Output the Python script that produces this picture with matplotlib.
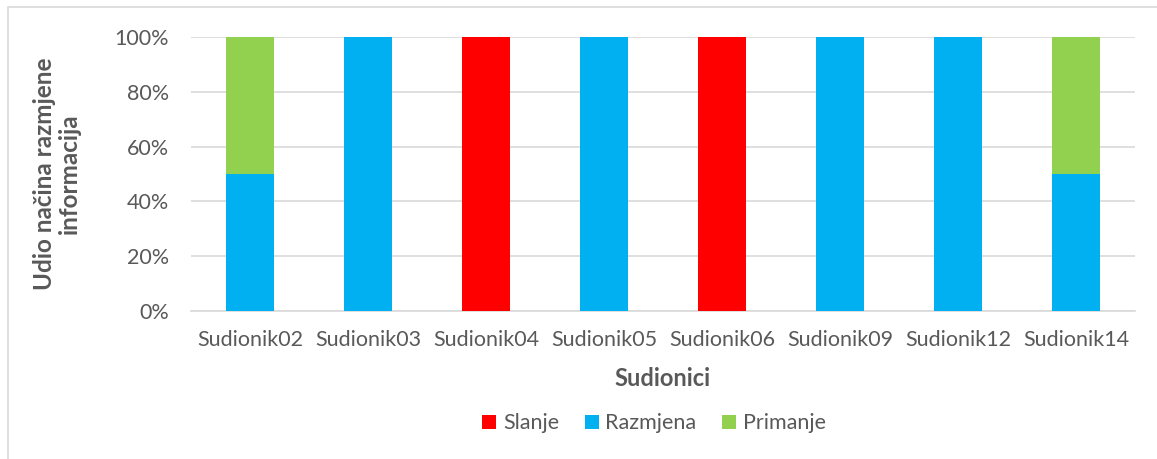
import matplotlib.pyplot as plt
import numpy as np
from matplotlib.patches import Rectangle
from matplotlib.ticker import PercentFormatter

plt.rcParams['font.family'] = ['Lato', 'DejaVu Sans']

participants = ['Sudionik02', 'Sudionik03', 'Sudionik04', 'Sudionik05',
                'Sudionik06', 'Sudionik09', 'Sudionik12', 'Sudionik14']
slanje = [0, 0, 1.0, 0, 1.0, 0, 0, 0]
razmjena = [0.5, 1.0, 0, 1.0, 0, 1.0, 1.0, 0.5]
primanje = [0.5, 0, 0, 0, 0, 0, 0, 0.5]

text_color = '#595959'
grid_color = '#d9d9d9'

fig = plt.figure(figsize=(11.57, 4.59), dpi=100)
ax = fig.add_axes([191 / 1157, 1 - 311 / 459, 944 / 1157, 274 / 459])

# chart area border
fig.patches.append(Rectangle((8 / 1157, -0.1), 1.2, 1 - 7 / 459 + 0.1,
                             transform=fig.transFigure, fill=False,
                             edgecolor='#d9d9d9', linewidth=1.2))

x = np.arange(len(participants))
w = 0.4
ax.bar(x, slanje, w, color='#ff0000', label='Slanje', zorder=3)
ax.bar(x, razmjena, w, bottom=slanje, color='#00b0f0', label='Razmjena', zorder=3)
bottom2 = np.array(slanje) + np.array(razmjena)
ax.bar(x, primanje, w, bottom=bottom2, color='#92d050', label='Primanje', zorder=3)

ax.set_xlim(-0.5, len(participants) - 0.5)
ax.set_ylim(0, 1)
ax.set_yticks(np.arange(0, 1.01, 0.2))
ax.yaxis.set_major_formatter(PercentFormatter(1.0, decimals=0))
ax.set_xticks(x)
ax.set_xticklabels(participants)

ax.yaxis.grid(True, color=grid_color, linewidth=1.2)
ax.set_axisbelow(True)
for s in ['top', 'right', 'left']:
    ax.spines[s].set_visible(False)
ax.spines['bottom'].set_color(grid_color)
ax.spines['bottom'].set_linewidth(1.2)
ax.tick_params(length=0, labelsize=15.5, colors=text_color)
ax.tick_params(axis='x', pad=14)
ax.tick_params(axis='y', pad=16)

ax.set_xlabel('Sudionici', fontsize=17, fontweight='bold', color=text_color, labelpad=12)
ax.set_ylabel('Udio načina razmjene\ninformacija', fontsize=17.5, fontweight='bold',
              color=text_color, labelpad=24, linespacing=1.1)

leg = ax.legend(loc='center', bbox_to_anchor=(0.4905, -0.41), ncol=3, frameon=False,
                fontsize=15.5, handlelength=0.65, handleheight=0.65,
                columnspacing=1.2, handletextpad=0.3)
for t in leg.get_texts():
    t.set_color(text_color)

fig.savefig('out.png', dpi=100)
